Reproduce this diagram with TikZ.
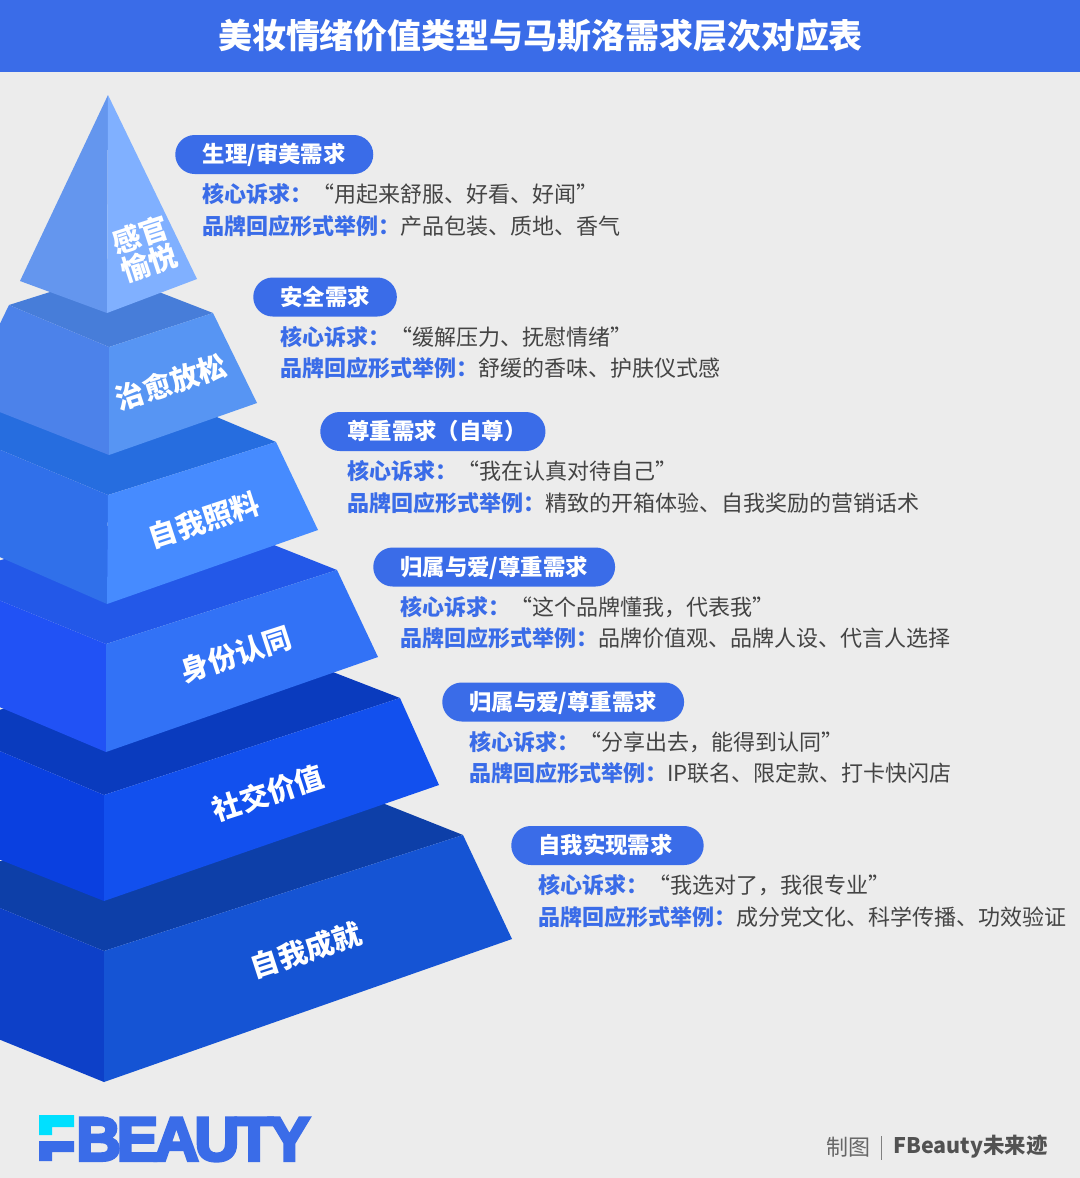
\documentclass[tikz,border=0pt]{standalone}
\usepackage{fontspec}
\setmainfont{Noto Sans CJK SC}
\newfontfamily\logofont[FakeBold=5,LetterSpace=-6.8]{Liberation Sans Bold}
\usepackage{tikz}
\usetikzlibrary{positioning}
\usepackage{xcolor}
\definecolor{brandblue}{HTML}{3A6CE8}
\definecolor{canvasgray}{HTML}{ECECEC}
\definecolor{bodygray}{HTML}{444444}
\definecolor{logocyan}{HTML}{00E0FF}
\newcommand{\keyterm}[1]{\textcolor{brandblue}{\bfseries #1}}

\begin{document}
\begin{tikzpicture}[
    x=0.75pt, y=-0.75pt,
    node distance=6.75pt and 20.25pt,
    % Text styles
    headtext/.style={
      font=\fontsize{25.45pt}{30pt}\selectfont\bfseries, text=white
    },
    pillbox/.style={
      rectangle, fill=brandblue, text=white, anchor=west,
      rounded corners=14.6pt, inner xsep=20.25pt, inner ysep=6.375pt,
      text height=14.5pt, text depth=2pt,
      font=\fontsize{16.8pt}{20pt}\selectfont\bfseries
    },
    linetext/.style={
      rectangle, inner sep=0pt, text=bodygray,
      text height=14.5pt, text depth=2pt,
      font=\fontsize{16.5pt}{20pt}\selectfont
    },
    facetext/.style={
      text=white, align=center, rotate=18, inner sep=0pt,
      font=\fontsize{21.5pt}{25pt}\selectfont\bfseries
    },
    credittext/.style={
      text=black!60, inner sep=0pt,
      font=\fontsize{16.5pt}{20pt}\selectfont
    }
  ]
  \useasboundingbox (0,0) rectangle (1080,1178);
  \fill[canvasgray] (0,0) rectangle (1080,1178);

  % ============ Header ============
  \fill[brandblue] (0,0) rectangle (1080,72);
  \node[headtext] (title) at (540.5,36) {美妆情绪价值类型与马斯洛需求层次对应表};

  % ============ Pyramid (bottom layer first) ============
  \begin{scope}
  \clip (0,0) rectangle (1080,1178);
  % Layer 6
  \fill[fill={rgb,255:red,13;green,63;blue,168}] (-63,882) -- (289,766) -- (463,835) -- (104,951) -- cycle;
  \fill[fill={rgb,255:red,13;green,64;blue,200}] (-63,882) -- (104,951) -- (104,1082) -- (-110,995) -- cycle;
  \fill[fill={rgb,255:red,21;green,84;blue,212}] (104,951) -- (463,835) -- (512,939) -- (104,1082) -- cycle;
  % Layer 5
  \fill[fill={rgb,255:red,10;green,59;blue,190}] (-55,728) -- (232,633) -- (400,698) -- (104,795) -- cycle;
  \fill[fill={rgb,255:red,10;green,64;blue,224}] (-55,728) -- (104,795) -- (104,901) -- (-100,820) -- cycle;
  \fill[fill={rgb,255:red,18;green,80;blue,238}] (104,795) -- (400,698) -- (439,785) -- (104,901) -- cycle;
  % Layer 4
  \fill[fill={rgb,255:red,35;green,88;blue,232}] (-55,578) -- (173,505) -- (337,570) -- (106,644) -- cycle;
  \fill[fill={rgb,255:red,33;green,82;blue,245}] (-55,578) -- (106,644) -- (106,752) -- (-100,665) -- cycle;
  \fill[fill={rgb,255:red,50;green,114;blue,246}] (106,644) -- (337,570) -- (378,657) -- (106,752) -- cycle;
  % Layer 3
  \fill[fill={rgb,255:red,38;green,109;blue,223}] (-52,428) -- (117,375) -- (276,442) -- (108,495) -- cycle;
  \fill[fill={rgb,255:red,48;green,112;blue,234}] (-52,428) -- (108,495) -- (107,604) -- (-94,516) -- cycle;
  \fill[fill={rgb,255:red,70;green,139;blue,255}] (108,495) -- (276,442) -- (318,530) -- (107,604) -- cycle;
  % Layer 2
  \fill[fill={rgb,255:red,71;green,125;blue,217}] (9,305) -- (110,273) -- (213,313) -- (109,347) -- cycle;
  \fill[fill={rgb,255:red,76;green,130;blue,234}] (9,305) -- (109,347) -- (109,455) -- (-36,398) -- cycle;
  \fill[fill={rgb,255:red,87;green,149;blue,243}] (109,347) -- (213,313) -- (257,403) -- (109,455) -- cycle;
  % Layer 1
  \fill[fill={rgb,255:red,100;green,150;blue,238}] (108,95) -- (107,313) -- (20,281) -- cycle;
  \fill[fill={rgb,255:red,128;green,176;blue,255}] (108,95) -- (197,279) -- (107,313) -- cycle;
  \end{scope}

  % ============ Face labels ============
  \node[facetext] (sensory) at (145,249) {感官\\[-3pt]愉悦};
  \node[facetext] (healing) at (171,382) {治愈放松};
  \node[facetext] (selfcare) at (204,520) {自我照料};
  \node[facetext] (identity) at (236,654) {身份认同};
  \node[facetext] (social) at (268,793) {社交价值};
  \node[facetext] (achieve) at (306,950) {自我成就};

  % ============ Need blocks ============
  \node[pillbox, minimum width=148.5pt] (pilla) at (175,154.5) {生理/审美需求};
  \node[linetext, below right=of pilla.south west] (aska)
    {\keyterm{核心诉求：}“用起来舒服、好看、好闻”};
  \node[linetext, below=6.5pt of aska.south west, anchor=north west] (forma)
    {\keyterm{品牌回应形式举例：}产品包装、质地、香气};

  \node[pillbox] (pillb) at (253,297) {安全需求};
  \node[linetext, below right=of pillb.south west] (askb)
    {\keyterm{核心诉求：}“缓解压力、抚慰情绪”};
  \node[linetext, below=6.5pt of askb.south west, anchor=north west] (formb)
    {\keyterm{品牌回应形式举例：}舒缓的香味、护肤仪式感};

  \node[pillbox] (pillc) at (320,431.5) {尊重需求（自尊）\hspace*{-6pt}};
  \node[linetext, below right=of pillc.south west] (askc)
    {\keyterm{核心诉求：}“我在认真对待自己”};
  \node[linetext, below=6.5pt of askc.south west, anchor=north west] (formc)
    {\keyterm{品牌回应形式举例：}精致的开箱体验、自我奖励的营销话术};

  \node[pillbox] (pilld) at (373,567) {归属与爱/尊重需求};
  \node[linetext, below right=of pilld.south west] (askd)
    {\keyterm{核心诉求：}“这个品牌懂我，代表我”};
  \node[linetext, below=6.5pt of askd.south west, anchor=north west] (formd)
    {\keyterm{品牌回应形式举例：}品牌价值观、品牌人设、代言人选择};

  \node[pillbox] (pille) at (442,702) {归属与爱/尊重需求};
  \node[linetext, below right=of pille.south west] (aske)
    {\keyterm{核心诉求：}“分享出去，能得到认同”};
  \node[linetext, below=6.5pt of aske.south west, anchor=north west] (forme)
    {\keyterm{品牌回应形式举例：}IP联名、限定款、打卡快闪店};

  \node[pillbox, minimum width=144pt] (pillf) at (511,845.5) {自我实现需求\hspace*{3pt}};
  \node[linetext, below right=of pillf.south west] (askf)
    {\keyterm{核心诉求：}“我选对了，我很专业”};
  \node[linetext, below=6.5pt of askf.south west, anchor=north west] (formf)
    {\keyterm{品牌回应形式举例：}成分党文化、科学传播、功效验证};

  % ============ Logo ============
  \fill[logocyan] (39,1115) -- (74,1115) -- (74,1127) -- (52,1127) -- (52,1135) -- (39,1135) -- cycle;
  \fill[brandblue] (39,1141) -- (74,1141) -- (74,1152) -- (52,1152) -- (52,1161) -- (39,1161) -- cycle;
  \node[anchor=base west, inner sep=0pt, text=brandblue,
    font=\fontsize{46.5pt}{50pt}\logofont] (logo) at (76,1160.5) {BEAUTY};

  % ============ Credit ============
  \node[credittext, anchor=west] (madeby) at (826,1147) {制图};
  \node[credittext, anchor=west, font=\fontsize{16.1pt}{20pt}\selectfont\bfseries, text=black!68] (brand) at (893,1147) {FBeauty未来迹};
  \draw[black!50, line width=0.75pt] (881,1136) -- (881,1160);
\end{tikzpicture}
\end{document}
